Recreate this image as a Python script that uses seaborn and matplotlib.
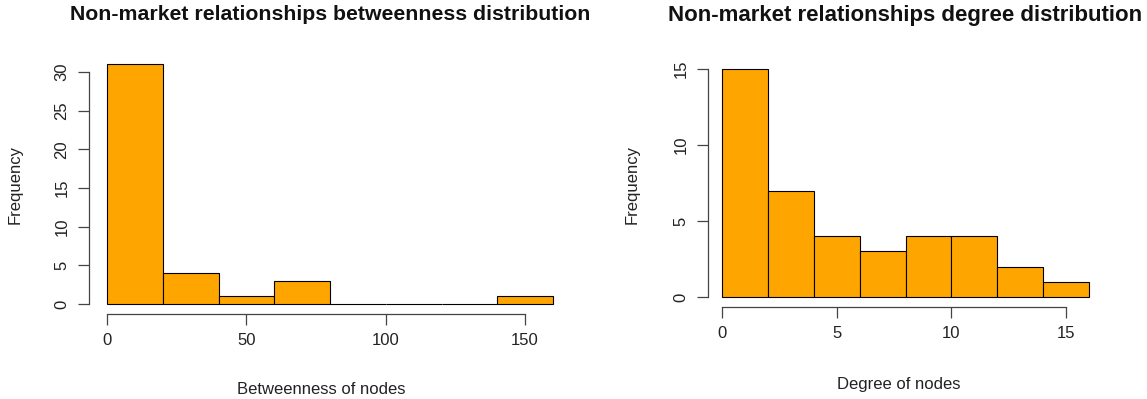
import matplotlib
matplotlib.use("Agg")
import matplotlib.pyplot as plt
import numpy as np
import pandas as pd
import seaborn as sns

# binned counts
btw_edges = [0, 20, 40, 60, 80, 100, 120, 140, 160]
btw_counts = [31, 4, 1, 3, 0, 0, 0, 1]
deg_edges = [0, 2, 4, 6, 8, 10, 12, 14, 16]
deg_counts = [15, 7, 4, 3, 4, 4, 2, 1]

sns.set_style("ticks")
plt.rcParams["font.family"] = ["Liberation Sans", "DejaVu Sans"]

W, H = 1147, 399
fig = plt.figure(figsize=(W / 100, H / 100), dpi=100)


def rect(x0, x1, y_top, y_bot):
    return [x0 / W, 1 - y_bot / H, (x1 - x0) / W, (y_bot - y_top) / H]


def panel(r, edges, counts, xlim, ylim, xticks, yticks, xlabel, title, title_x,
          title_size, xlab_y, ylab_x):
    ax = fig.add_axes(r)
    mids = [(a + b) / 2 for a, b in zip(edges[:-1], edges[1:])]
    df = pd.DataFrame({"x": mids, "w": counts})
    sns.histplot(data=df, x="x", weights="w", bins=edges, color="#FFA500",
                 edgecolor="black", linewidth=0.8, alpha=1, ax=ax)
    for p in ax.patches:
        p.set_clip_on(False)
    ax.set_xlim(*xlim)
    ax.set_ylim(*ylim)
    ax.set_xticks(xticks)
    ax.set_yticks(yticks)
    ax.spines["top"].set_visible(False)
    ax.spines["right"].set_visible(False)
    ax.spines["left"].set_bounds(yticks[0], yticks[-1])
    ax.spines["bottom"].set_bounds(xticks[0], xticks[-1])
    for s in ("left", "bottom"):
        ax.spines[s].set_color("#444444")
        ax.spines[s].set_linewidth(0.9)
    ax.tick_params(axis="both", direction="out", length=8, width=0.9,
                   color="#444444", labelsize=12, labelcolor="#222222", pad=6)
    for lbl in ax.get_yticklabels():
        lbl.set_rotation(90)
        lbl.set_va("center")
    ax.set_xlabel("")
    ax.set_ylabel("")
    fig.text(title_x / W, 1 - 15 / H, title, ha="center", va="center",
             fontsize=title_size, fontweight="bold", color="#111111")
    fig.text((r[0] + r[2] / 2 + 0.0), 1 - xlab_y / H, xlabel, ha="center",
             va="center", fontsize=12, color="#222222")
    fig.text(ylab_x / W, 1 - 185 / H, "Frequency", ha="center", va="center",
             rotation=90, fontsize=12, color="#222222")
    return ax


# left panel: 0 -> 107px, 160 -> 553px; 0 -> 304px, 30 -> 72px
sx = (553 - 107) / 160
sy = (304 - 72) / 30
panel(rect(89, 553, 62, 314), btw_edges, btw_counts,
      (-(107 - 89) / sx, 160), (-(314 - 304) / sy, (304 - 62) / sy),
      [0, 50, 100, 150], [0, 5, 10, 15, 20, 25, 30],
      "Betweenness of nodes", "Non-market relationships betweenness distribution",
      330, 15.3, 389, 15)

# right panel: 0 -> 722px, 16 -> 1089px; 0 -> 297px, 15 -> 69px
sx = (1089 - 722) / 16
sy = (297 - 69) / 15
panel(rect(708, 1089, 62, 307), deg_edges, deg_counts,
      (-(722 - 708) / sx, 16), (-(307 - 297) / sy, (297 - 62) / sy),
      [0, 5, 10, 15], [0, 5, 10, 15],
      "Degree of nodes", "Non-market relationships degree distribution",
      905, 16, 385, 632)

fig.savefig("out.png", dpi=100)
